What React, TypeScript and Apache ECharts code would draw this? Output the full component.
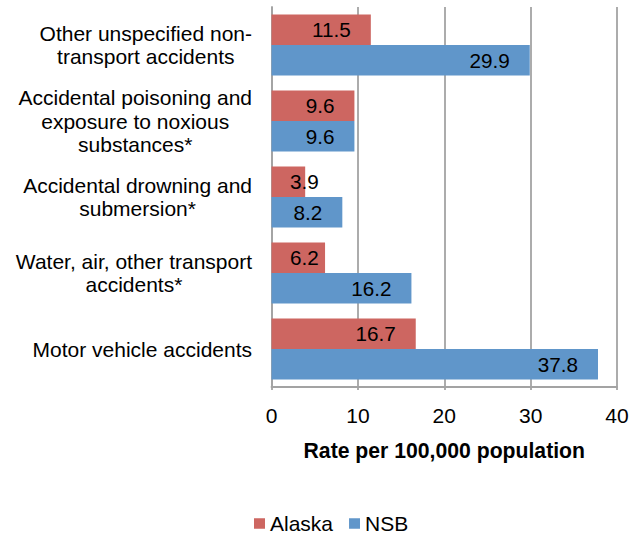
import React, { useEffect, useRef } from "react";
import * as echarts from "echarts";

const categories = [
  "Other unspecified non-\ntransport accidents",
  "Accidental poisoning and\nexposure to noxious\nsubstances*",
  "Accidental drowning and\nsubmersion*",
  "Water, air, other transport\naccidents*",
  "Motor vehicle accidents",
];
const alaskaValues = [11.5, 9.6, 3.9, 6.2, 16.7];
const nsbValues = [29.9, 9.6, 8.2, 16.2, 37.8];
const seriesNames = ["Alaska", "NSB"];
const xTicks = { min: 0, max: 40, interval: 10 };

const FONT = "'Liberation Sans', Arial, sans-serif";
const FS = 21;
const GRID_COLOR = "#A3A3A3";

function buildData(values: number[]) {
  return values.map((v) => ({
    value: v,
    label:
      v < 7.8
        ? { position: "insideLeft", distance: 18.5 }
        : { position: "insideRight", distance: 20 },
  }));
}

export default function App() {
  const ref = useRef<HTMLDivElement>(null);
  useEffect(() => {
    if (!ref.current) return;
    const chart = echarts.init(ref.current, null, { renderer: "svg" });
    const labelStyle = {
      show: true,
      color: "#000",
      fontSize: 20.7,
      fontFamily: FONT,
      formatter: (p: any) => String(p.value),
    };
    chart.setOption({
      animation: false,
      backgroundColor: "#fff",
      grid: { left: 271.5, right: 20, top: 7, bottom: 153 },
      legend: {
        data: seriesNames,
        left: 249,
        top: 508,
        icon: "rect",
        itemWidth: 11,
        itemHeight: 10.5,
        itemGap: 16,
        textStyle: { fontSize: FS, fontFamily: FONT, color: "#000" },
      },
      xAxis: {
        type: "value",
        min: xTicks.min,
        max: xTicks.max,
        interval: xTicks.interval,
        name: "Rate per 100,000 population",
        nameLocation: "middle",
        nameGap: 53,
        nameTextStyle: { fontSize: 21.2, fontWeight: "bold", fontFamily: FONT, color: "#000" },
        axisLine: { show: true, lineStyle: { color: GRID_COLOR, width: 1.8 } },
        axisTick: { show: true, length: 3, lineStyle: { color: GRID_COLOR, width: 1.8 } },
        axisLabel: { fontSize: FS, fontFamily: FONT, color: "#000", margin: 18 },
        splitLine: { show: true, lineStyle: { color: GRID_COLOR, width: 1.8 } },
      },
      yAxis: {
        type: "category",
        inverse: true,
        data: categories,
        axisLine: { show: true, lineStyle: { color: GRID_COLOR, width: 1.8 } },
        axisTick: { show: false },
        axisLabel: {
          interval: 0,
          margin: 19.5,
          fontSize: FS,
          fontFamily: FONT,
          color: "#000",
          lineHeight: 23.3,
          formatter: (v: string) =>
            v
              .split("\n")
              .map((l) => "{c|" + l + "}")
              .join("\n"),
          rich: {
            c: { align: "center", fontSize: FS, fontFamily: FONT, color: "#000", lineHeight: 23.3 },
          },
        },
      },
      series: [
        {
          name: seriesNames[0],
          type: "bar",
          data: buildData(alaskaValues),
          itemStyle: { color: "#CD6661" },
          barGap: "0%",
          barCategoryGap: "20%",
          label: labelStyle,
        },
        {
          name: seriesNames[1],
          type: "bar",
          data: buildData(nsbValues),
          itemStyle: { color: "#6096CA" },
          barGap: "0%",
          barCategoryGap: "20%",
          label: labelStyle,
        },
      ],
    });
    return () => chart.dispose();
  }, []);
  return (
    <div
      ref={ref}
      style={{ position: "fixed", left: 0, top: 0, width: 637, height: 540 }}
    />
  );
}
